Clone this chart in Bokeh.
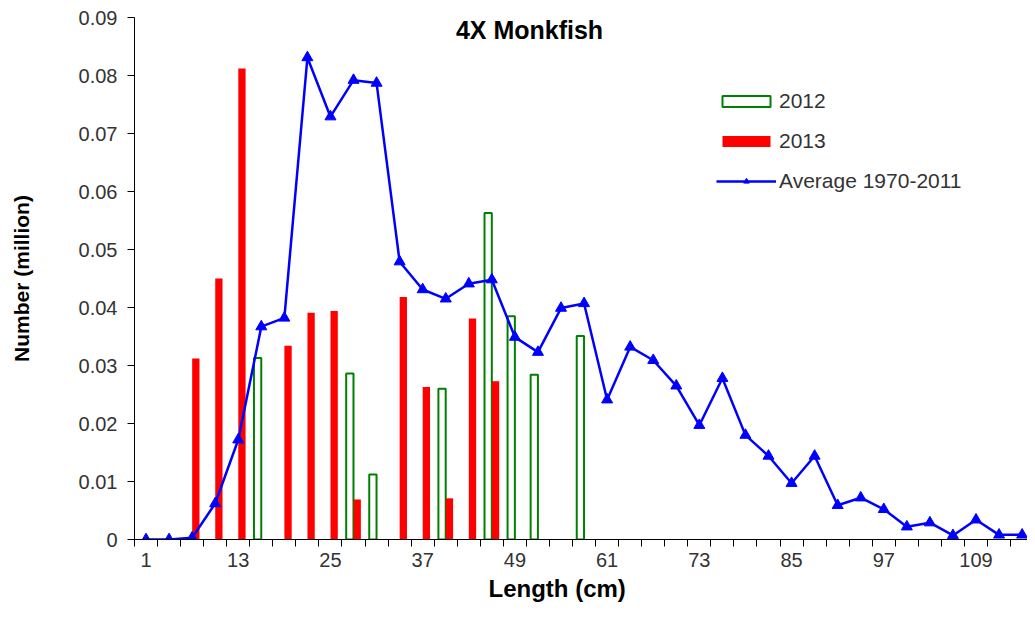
from bokeh.plotting import figure
from bokeh.models import (ColumnDataSource, FixedTicker, CustomJSTickFormatter,
                          Legend, LegendItem, Label, Range1d, Title)
from bokeh.transform import dodge
from bokeh.embed import file_html
from bokeh.resources import INLINE

# ---- data ----
lengths = list(range(1, 116, 3))  # 3-cm length classes, 1 .. 115
avg_1970_2011 = [0.0, 0.0, 0.0003, 0.0062, 0.0172, 0.0367, 0.0382, 0.0831, 0.0729,
                 0.0792, 0.0787, 0.0479, 0.0431, 0.0415, 0.0441, 0.0448, 0.0349,
                 0.0323, 0.0399, 0.0407, 0.0241, 0.0332, 0.0309, 0.0265, 0.0197,
                 0.0278, 0.0180, 0.0144, 0.0097, 0.0144, 0.0059, 0.0072, 0.0052,
                 0.0022, 0.0029, 0.0007, 0.0034, 0.0008, 0.0008]
len_2012 = [16, 28, 31, 40, 46, 49, 52, 58]
val_2012 = [0.0313, 0.0286, 0.0112, 0.0260, 0.0563, 0.0385, 0.0284, 0.0351]
len_2013 = [7, 10, 13, 19, 22, 25, 28, 34, 37, 40, 43, 46]
val_2013 = [0.0312, 0.0450, 0.0812, 0.0334, 0.0391, 0.0394, 0.0069, 0.0418,
            0.0263, 0.0071, 0.0381, 0.0273]
x_tick_labels = [1, 13, 25, 37, 49, 61, 73, 85, 97, 109]
y_ticks = [0, 0.01, 0.02, 0.03, 0.04, 0.05, 0.06, 0.07, 0.08, 0.09]
title_text = "4X Monkfish"
x_title = "Length (cm)"
y_title = "Number (million)"

FONT = "Liberation Sans"
TXT = "#333333"

src_avg = ColumnDataSource(dict(x=lengths, y=avg_1970_2011))
src_12 = ColumnDataSource(dict(x=len_2012, y=val_2012))
src_13 = ColumnDataSource(dict(x=len_2013, y=val_2013))

p = figure(width=1027, height=610, output_backend="svg", toolbar_location=None,
           x_range=Range1d(-0.5, 115.7), y_range=Range1d(0, 0.09),
           min_border_left=134, min_border_right=0, min_border_top=17,
           min_border_bottom=71)
p.outline_line_color = None
p.grid.visible = False
p.background_fill_color = "white"
p.border_fill_color = "white"

r12 = p.vbar(x=dodge("x", -0.48, range=p.x_range), top="y", width=0.95, bottom=0,
             source=src_12, fill_color=None, line_color="#008000", line_width=2)
r13 = p.vbar(x=dodge("x", 0.48, range=p.x_range), top="y", width=0.95, bottom=0,
             source=src_13, fill_color="#FF0000", line_color=None)
rl = p.line("x", "y", source=src_avg, line_color="#0000FF", line_width=2.5)
rm = p.scatter("x", "y", source=src_avg, marker="triangle", size=11,
               fill_color="#0000FF", line_color="#0000FF")

# x axis: ticks at class boundaries, labels at every 4th class centre
xa = p.xaxis[0]
xa.ticker = FixedTicker(ticks=x_tick_labels, minor_ticks=[l - 1.5 for l in lengths] + [116.5])
xa.major_tick_out = 0
xa.major_tick_in = 0
xa.minor_tick_out = 7
xa.minor_tick_in = 0
xa.minor_tick_line_color = "black"
xa.axis_line_color = "black"
xa.major_label_text_font = FONT
xa.major_label_text_font_size = "20px"
xa.major_label_text_color = TXT
xa.major_label_standoff = 6

ya = p.yaxis[0]
ya.ticker = FixedTicker(ticks=y_ticks)
ya.formatter = CustomJSTickFormatter(code="return tick === 0 ? '0' : tick.toFixed(2);")
ya.major_tick_out = 7
ya.major_tick_in = 0
ya.minor_tick_line_color = None
ya.axis_line_color = "black"
ya.major_label_text_font = FONT
ya.major_label_text_font_size = "20px"
ya.major_label_text_color = TXT
ya.major_label_standoff = 10
ya.axis_label = y_title
ya.axis_label_text_font = FONT
ya.axis_label_text_font_size = "21px"
ya.axis_label_text_font_style = "bold"
ya.axis_label_text_color = "black"
ya.axis_label_standoff = 43

title = Label(x=50.9, y=0.0879, text=title_text, text_align="center",
              text_baseline="middle", text_font=FONT, text_font_size="25px",
              text_font_style="bold", text_color="black")
p.add_layout(title)

xlab = Title(text=x_title, align="left", offset=354, vertical_align="bottom",
             standoff=6, text_font=FONT, text_font_size="24px",
             text_font_style="bold", text_color="black")
p.add_layout(xlab, "below")

legend = Legend(items=[LegendItem(label="2012", renderers=[r12]),
                       LegendItem(label="2013", renderers=[r13]),
                       LegendItem(label="Average 1970-2011", renderers=[rl, rm])],
                location=(582, 346))
legend.glyph_width = 60
legend.glyph_height = 14
legend.label_height = 24
legend.spacing = 16
legend.padding = 0
legend.margin = 0
legend.label_standoff = 3
legend.border_line_color = None
legend.background_fill_color = None
legend.label_text_font = FONT
legend.label_text_font_size = "21px"
legend.label_text_color = TXT
p.add_layout(legend)

open("out.html", "w").write(file_html(p, INLINE))
